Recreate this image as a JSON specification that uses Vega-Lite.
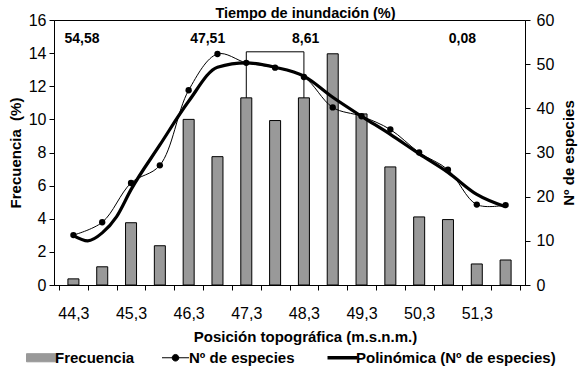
{
  "$schema": "https://vega.github.io/schema/vega-lite/v6.json",
  "width": 471,
  "height": 265,
  "autosize": "none",
  "padding": {"left": 54, "top": 20, "right": 63, "bottom": 88},
  "config": {
    "font": "Liberation Sans",
    "view": {"stroke": "black", "strokeWidth": 1},
    "axis": {
      "domainColor": "black", "tickColor": "black", "labelColor": "black", "titleColor": "black",
      "grid": false, "labelFont": "Liberation Sans", "titleFont": "Liberation Sans",
      "labelFontSize": 16, "titleFontSize": 15, "titleFontWeight": "bold", "domainWidth": 1, "tickWidth": 1
    },
    "axisX": {"labelOverlap": false, "labelFlush": false}
  },
  "title": {
    "text": "Tiempo de inundación (%)", "anchor": "middle", "frame": "group", "dx": 16, "dy": 13, "offset": 4,
    "fontSize": 14.5, "fontWeight": "bold", "font": "Liberation Sans", "color": "black"
  },
  "datasets": {
    "bars": [
      {"pos": 44.3, "v": 0.37}, {"pos": 44.8, "v": 1.1}, {"pos": 45.3, "v": 3.76}, {"pos": 45.8, "v": 2.37},
      {"pos": 46.3, "v": 10.0}, {"pos": 46.8, "v": 7.75}, {"pos": 47.3, "v": 11.3}, {"pos": 47.8, "v": 9.93},
      {"pos": 48.3, "v": 11.3}, {"pos": 48.8, "v": 13.96}, {"pos": 49.3, "v": 10.33}, {"pos": 49.8, "v": 7.13},
      {"pos": 50.3, "v": 4.11}, {"pos": 50.8, "v": 3.95}, {"pos": 51.3, "v": 1.27}, {"pos": 51.8, "v": 1.51}
    ],
    "esp": [
      {"pos": 44.3, "n": 11.3}, {"pos": 44.8, "n": 14.2}, {"pos": 45.3, "n": 23.1}, {"pos": 45.8, "n": 27.1},
      {"pos": 46.3, "n": 44.1}, {"pos": 46.8, "n": 52.3}, {"pos": 47.3, "n": 50.3}, {"pos": 47.8, "n": 49.2},
      {"pos": 48.3, "n": 47.1}, {"pos": 48.8, "n": 40.2}, {"pos": 49.3, "n": 38.2}, {"pos": 49.8, "n": 35.2},
      {"pos": 50.3, "n": 30.0}, {"pos": 50.8, "n": 26.1}, {"pos": 51.3, "n": 18.2}, {"pos": 51.8, "n": 18.1}
    ],
    "trend": [
      {"pos": 44.3, "n": 11.2}, {"pos": 44.55, "n": 10.0}, {"pos": 44.8, "n": 11.8}, {"pos": 45.05, "n": 15.5},
      {"pos": 45.3, "n": 21.6}, {"pos": 45.8, "n": 31.7}, {"pos": 46.3, "n": 41.6}, {"pos": 46.8, "n": 49.3},
      {"pos": 47.3, "n": 50.3}, {"pos": 47.8, "n": 49.3}, {"pos": 48.3, "n": 47.3}, {"pos": 48.8, "n": 42.5},
      {"pos": 49.3, "n": 38.2}, {"pos": 49.8, "n": 34.1}, {"pos": 50.3, "n": 29.7}, {"pos": 50.8, "n": 25.5},
      {"pos": 51.3, "n": 20.5}, {"pos": 51.8, "n": 17.7}
    ],
    "bracket": [
      {"pos": 47.3, "pos2": 48.3, "v": 14.08, "v2": 14.08},
      {"pos": 47.3, "pos2": 47.3, "v": 11.3, "v2": 14.08},
      {"pos": 48.3, "pos2": 48.3, "v": 11.3, "v2": 14.08}
    ],
    "notes": [
      {"pos": 44.45, "v": 14.86, "label": "54,58"},
      {"pos": 46.63, "v": 14.86, "label": "47,51"},
      {"pos": 48.33, "v": 14.86, "label": "8,61"},
      {"pos": 51.05, "v": 14.86, "label": "0,08"}
    ]
  },
  "encoding": {
    "x": {
      "field": "pos", "type": "quantitative",
      "scale": {"domain": [44.05, 52.05], "nice": false, "zero": false},
      "axis": {
        "title": "Posición topográfica (m.s.n.m.)",
        "values": [44.05, 44.3, 44.55, 45.05, 45.3, 45.55, 46.05, 46.3, 46.55, 47.05, 47.3, 47.55, 48.05, 48.3, 48.55, 49.05, 49.3, 49.55, 50.05, 50.3, 50.55, 51.05, 51.3, 51.55, 52.05],
        "labelExpr": "round(datum.value*100) % 100 == 30 ? replace(format(datum.value, '.1f'), '.', ',') : ''",
        "tickOpacity": {"condition": {"test": "round(datum.value*100) % 50 == 5", "value": 1}, "value": 0},
        "tickSize": 5, "labelPadding": 15, "labelFlush": false, "labelOverlap": false,
        "titlePadding": 8, "titleX": 251,
        "encode": {"ticks": {"update": {"y": {"value": -5}}}}
      }
    }
  },
  "layer": [
    {
      "encoding": {
        "y": {
          "field": "v", "type": "quantitative",
          "scale": {"domain": [0, 16], "nice": false},
          "axis": {"title": "Frecuencia\u00a0 (%)", "values": [0, 2, 4, 6, 8, 10, 12, 14, 16], "tickSize": 5, "labelPadding": 3, "titlePadding": 5}
        }
      },
      "layer": [
        {
          "data": {"name": "bars"},
          "mark": {"type": "bar", "orient": "vertical", "size": 11, "stroke": "black", "strokeWidth": 1},
          "encoding": {
            "color": {
              "datum": "Frecuencia", "type": "nominal",
              "scale": {"domain": ["Frecuencia", "Nº de especies", "Polinómica (Nº de especies)"], "range": ["#999999", "black", "black"]},
              "legend": {
                "orient": "none", "legendX": -20, "legendY": 330, "direction": "horizontal", "title": null,
                "symbolSize": 900, "labelFontSize": 15, "labelFontWeight": "bold", "labelColor": "black",
                "labelFont": "Liberation Sans", "labelOffset": 6, "columnPadding": 25, "padding": 0, "labelLimit": 400,
                "symbolType": {"expr": "datum.value === 'Frecuencia' ? 'M-1,-0.27H1V0.27H-1Z' : (datum.value === 'Nº de especies' ? 'M-0.9,0H0.9M-0.22,0A0.22,0.22,0,1,1,0.22,0A0.22,0.22,0,1,1,-0.22,0Z' : 'M-1,0H1')"},
                "symbolStrokeColor": "black",
                "symbolStrokeWidth": {"expr": "datum.value === 'Polinómica (Nº de especies)' ? 3.5 : 1"},
                "symbolOpacity": 1
              }
            }
          }
        },
        {
          "data": {"name": "bracket"},
          "mark": {"type": "rule", "color": "black", "strokeWidth": 1},
          "encoding": {"x2": {"field": "pos2"}, "y2": {"field": "v2"}}
        },
        {
          "data": {"name": "notes"},
          "mark": {"type": "text", "fontWeight": "bold", "fontSize": 14, "baseline": "middle", "color": "black", "font": "Liberation Sans"},
          "encoding": {"text": {"field": "label"}}
        }
      ]
    },
    {
      "encoding": {
        "y": {
          "field": "n", "type": "quantitative", "scale": {"domain": [0, 60], "nice": false},
          "axis": {"orient": "right", "title": "Nº de especies", "values": [0, 10, 20, 30, 40, 50, 60], "tickSize": 5, "labelPadding": 6, "titlePadding": 8, "titleAngle": 270, "titleBaseline": "top"}
        }
      },
      "layer": [
        {
          "data": {"name": "trend"},
          "mark": {"type": "line", "interpolate": "monotone", "strokeWidth": 3.2},
          "encoding": {"color": {"datum": "Polinómica (Nº de especies)", "type": "nominal"}}
        },
        {
          "data": {"name": "esp"},
          "mark": {"type": "line", "interpolate": "catmull-rom", "strokeWidth": 1, "point": {"filled": true, "size": 40}},
          "encoding": {"color": {"datum": "Nº de especies", "type": "nominal"}}
        }
      ]
    }
  ],
  "resolve": {"scale": {"y": "independent"}}
}
